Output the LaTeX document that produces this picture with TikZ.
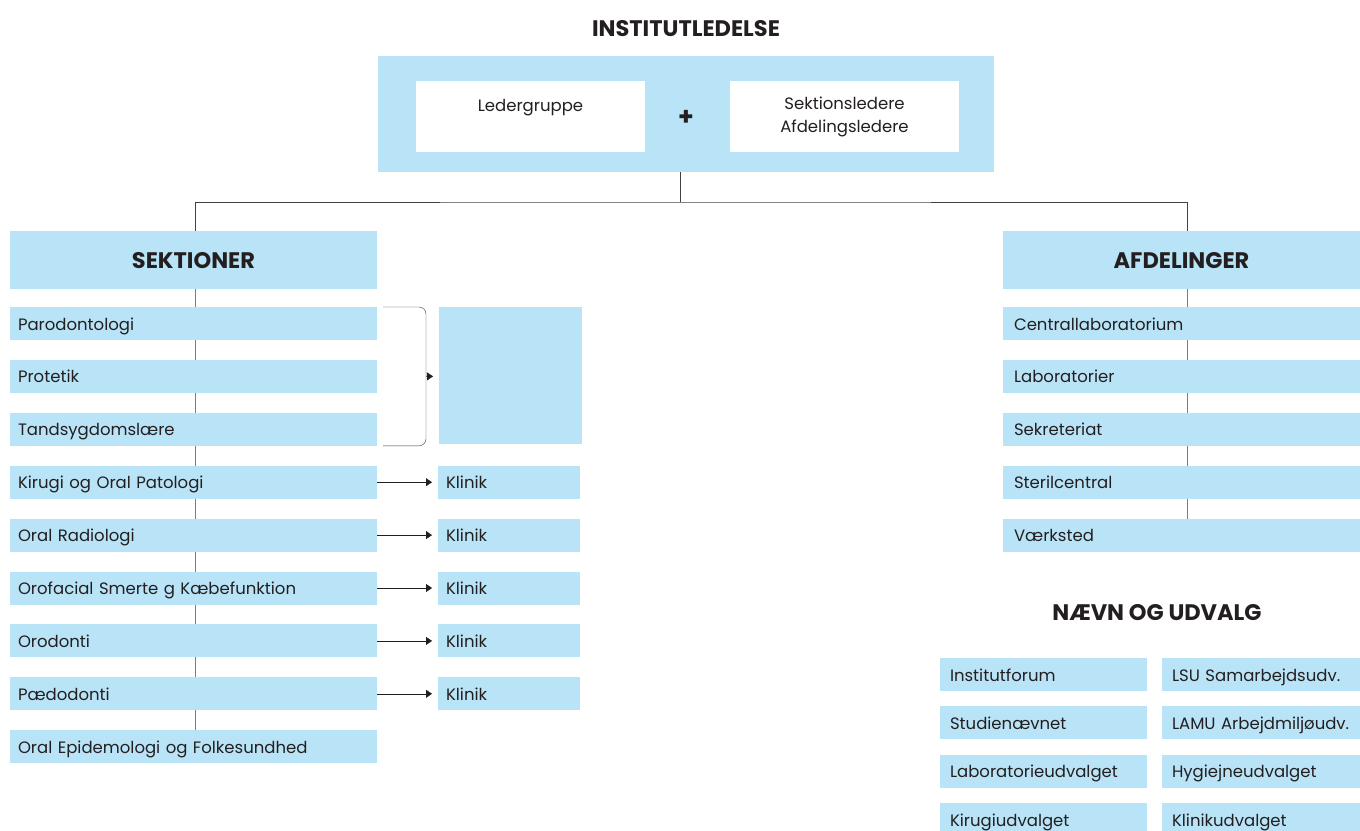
\documentclass[tikz,border=0pt]{standalone}
\usepackage{fontspec}
\setmainfont{Poppins}
\usetikzlibrary{arrows.meta, positioning, backgrounds}
\definecolor{lysblaa}{RGB}{185,228,247}
\definecolor{tekst}{RGB}{35,31,32}
\definecolor{streg}{RGB}{125,125,125}

\begin{document}
\begin{tikzpicture}[x=1pt, y=-1pt,
    every node/.style={font=\fontsize{16.5}{20}\selectfont, text=tekst, outer sep=0pt},
    head/.style={font=\fontsize{22.5}{26}\selectfont\bfseries, text height=16pt, text depth=0pt},
    felt/.style={fill=lysblaa, inner sep=0pt, inner xsep=8pt, minimum height=33pt,
        text height=15pt, text depth=2pt},
    hvid/.style={fill=white, inner sep=0pt, minimum width=229pt, minimum height=71pt,
        text width=229pt, align=center, font=\fontsize{16.5}{23}\selectfont},
    sek/.style={felt, minimum width=367pt, text width=351pt, align=left},
    afd/.style={felt, inner xsep=11pt, minimum width=357pt, text width=335pt, align=left},
    klin/.style={felt, minimum width=142pt, text width=126pt, align=left},
    udvA/.style={felt, inner xsep=10pt, minimum width=207pt, text width=187pt, align=left},
    udvB/.style={felt, inner xsep=10pt, minimum width=198pt, text width=178pt, align=left},
    pil/.style={draw=tekst, -{Triangle[length=6pt,width=8pt]}, shorten >=6pt}
]
\useasboundingbox (0,0) rectangle (1360,830);

% Institutledelse
\node[head] (titel) at (686,28) {INSTITUTLEDELSE};
\node[felt, anchor=north west, minimum width=616pt, minimum height=116pt] (ledelse) at (378,56) {};
\node[hvid, anchor=north west] (leder) at (416,81) {Ledergruppe\\\phantom{L}};
\node[hvid, anchor=north west] (sekled) at (730,81) {Sektionsledere\\Afdelingsledere};
\node[font=\fontsize{25}{25}\selectfont\bfseries] (plus) at (686,118) {+};

% Sektioner
\node[felt, head, anchor=north west, minimum width=367pt, minimum height=58pt] (sektioner) at (10,231) {SEKTIONER};
\node[sek, below=18pt of sektioner] (paro) {Parodontologi};
\node[sek, below=19.9pt of paro] (prot) {Protetik};
\node[sek, below=19.9pt of prot] (tand) {Tandsygdomslære};
\node[sek, below=19.9pt of tand] (kir) {Kirugi og Oral Patologi};
\node[sek, below=19.9pt of kir] (radio) {Oral Radiologi};
\node[sek, below=19.9pt of radio] (orof) {Orofacial Smerte g Kæbefunktion};
\node[sek, below=19.9pt of orof] (orod) {Orodonti};
\node[sek, below=19.9pt of orod] (paed) {Pædodonti};
\node[sek, below=19.9pt of paed] (oepi) {Oral Epidemologi og Folkesundhed};

% Klinikker
\node[felt, anchor=north west, minimum width=143pt, minimum height=137pt] (klin0) at (439,307) {};
\node[klin, right=61pt of kir] (klin1) {Klinik};
\node[klin, right=61pt of radio] (klin2) {Klinik};
\node[klin, right=61pt of orof] (klin3) {Klinik};
\node[klin, right=61pt of orod] (klin4) {Klinik};
\node[klin, right=61pt of paed] (klin5) {Klinik};

% Afdelinger
\node[felt, head, anchor=north west, minimum width=357pt, minimum height=58pt] (afdelinger) at (1003,231) {AFDELINGER};
\node[afd, below=18pt of afdelinger] (central) {Centrallaboratorium};
\node[afd, below=19.9pt of central] (lab) {Laboratorier};
\node[afd, below=19.9pt of lab] (sekr) {Sekreteriat};
\node[afd, below=19.9pt of sekr] (steril) {Sterilcentral};
\node[afd, below=19.9pt of steril] (vaerk) {Værksted};

% Naevn og udvalg
\node[head] (naevn) at (1157,612) {NÆVN OG UDVALG};
\node[udvA, anchor=north west] (forum) at (940,658) {Institutforum};
\node[udvA, below=15pt of forum] (studie) {Studienævnet};
\node[udvA, below=15.5pt of studie] (labudv) {Laboratorieudvalget};
\node[udvA, below=15.5pt of labudv] (kirudv) {Kirugiudvalget};
\node[udvB, anchor=north west] (lsu) at (1162,658) {LSU Samarbejdsudv.};
\node[udvB, below=15pt of lsu] (lamu) {LAMU Arbejdmiljøudv.};
\node[udvB, below=15.5pt of lamu] (hyg) {Hygiejneudvalget};
\node[udvB, below=15.5pt of hyg] (klinudv) {Klinikudvalget};

% Forbindelser
\begin{scope}[on background layer]
\draw[tekst!85] ([xshift=-6pt]ledelse.south) -- ++(0,30) coordinate (gren);
\draw[tekst!85] ([xshift=1.5pt]sektioner.north) |- (gren) -| ([xshift=5.5pt]afdelinger.north);
\draw[streg] ([xshift=1.5pt]sektioner.south) -- ([xshift=1.5pt]oepi.north);
\draw[streg] ([xshift=5.5pt]afdelinger.south) -- ([xshift=5.5pt]vaerk.north);
\end{scope}

\draw[tekst!90, rounded corners=7pt] ([xshift=6pt]paro.north east) -| ([xshift=49pt]prot.east)
    |- ([xshift=6pt]tand.south east);
\draw[pil] ([xshift=49pt]prot.east) -- (klin0);
\draw[pil] (kir) -- (klin1);
\draw[pil] (radio) -- (klin2);
\draw[pil] (orof) -- (klin3);
\draw[pil] (orod) -- (klin4);
\draw[pil] (paed) -- (klin5);

\end{tikzpicture}
\end{document}
